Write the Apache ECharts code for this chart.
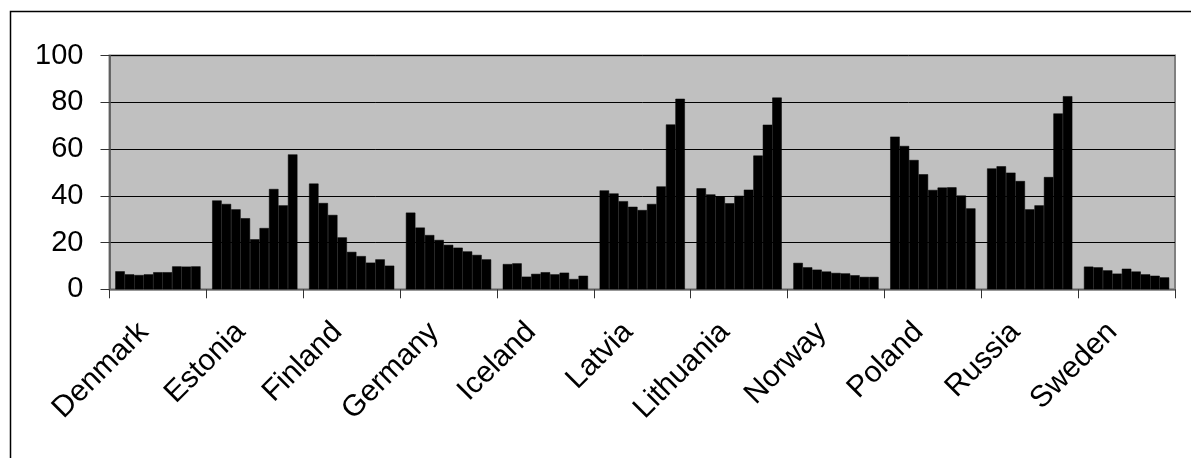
<!DOCTYPE html>
<html>
<head>
<meta charset="utf-8">
<script src="https://cdn.jsdelivr.net/npm/echarts@6/dist/echarts.min.js"></script>
<style>
html,body{margin:0;padding:0;background:#fff;}
#c{width:1191px;height:458px;}
</style>
</head>
<body>
<div id="c"></div>
<script>
var categories = ['Denmark','Estonia','Finland','Germany','Iceland','Latvia','Lithuania','Norway','Poland','Russia','Sweden'];
var yTicks = [0, 20, 40, 60, 80, 100];
var denmark   = [7.7, 6.4, 6.1, 6.4, 7.3, 7.3, 9.8, 9.7, 9.8];
var estonia   = [38.0, 36.5, 34.2, 30.4, 21.4, 26.2, 42.9, 35.9, 57.7];
var finland   = [45.2, 36.9, 31.8, 22.2, 16.0, 14.2, 11.4, 12.8, 10.1];
var germany   = [32.8, 26.4, 23.2, 21.1, 19.0, 17.8, 16.2, 14.7, 12.8];
var iceland   = [10.8, 11.1, 5.4, 6.6, 7.3, 6.4, 7.1, 4.4, 5.8];
var latvia    = [42.3, 41.0, 37.7, 35.3, 33.9, 36.5, 44.0, 70.5, 81.5];
var lithuania = [43.2, 40.6, 39.8, 36.8, 40.0, 42.6, 57.2, 70.4, 82.0];
var norway    = [11.3, 9.4, 8.4, 7.6, 7.0, 6.8, 6.0, 5.3, 5.3];
var poland    = [65.3, 61.3, 55.3, 49.2, 42.5, 43.5, 43.6, 40.1, 34.6];
var russia    = [51.7, 52.6, 49.9, 46.3, 34.2, 35.9, 48.0, 75.2, 82.6];
var sweden    = [9.7, 9.4, 8.1, 6.7, 8.8, 7.6, 6.4, 5.8, 5.1];

var byCountry = [denmark, estonia, finland, germany, iceland, latvia, lithuania, norway, poland, russia, sweden];
var nSeries = denmark.length;
var series = [];
for (var s = 0; s < nSeries; s++) {
  series.push({
    type: 'bar',
    name: 'S' + (s + 1),
    data: byCountry.map(function (c) { return c[s]; }),
    barGap: '0%',
    barCategoryGap: '12%',
    itemStyle: { color: '#000', borderColor: '#000', borderWidth: 0.5 },
    animation: false
  });
}

var chart = echarts.init(document.getElementById('c'), null, {renderer: 'canvas'});
var font = "'Liberation Sans', Arial, sans-serif";
chart.setOption({
  animation: false,
  backgroundColor: '#fff',
  grid: {
    left: 109.5, right: 16, top: 55.5, bottom: 168.7,
    show: true, backgroundColor: '#C0C0C0', borderColor: '#808080', borderWidth: 2,
    containLabel: false
  },
  graphic: [{
    type: 'rect', left: 8, top: 9, shape: {x: 0, y: 0, width: 1400, height: 700},
    style: {fill: 'none', stroke: '#000', lineWidth: 1.5}, silent: true, z: 100
  }],
  xAxis: {
    type: 'category',
    data: categories,
    axisLine: { show: true, lineStyle: { color: '#808080', width: 1.5 } },
    axisTick: { show: true, length: 9, lineStyle: { color: '#333' } },
    axisLabel: {
      rotate: 45, interval: 0, color: '#000', fontSize: 30, fontFamily: font,
      margin: 24, padding: [0, 20, 0, 0]
    },
    splitLine: { show: false }
  },
  yAxis: {
    type: 'value',
    min: 0, max: 100, interval: 20,
    axisLine: { show: true, lineStyle: { color: '#555', width: 1.5 } },
    axisTick: { show: true, length: 9, lineStyle: { color: '#333' } },
    axisLabel: {
      color: '#000', fontSize: 29, fontFamily: font, margin: 26,
      formatter: function (v) { return yTicks.indexOf(v) >= 0 ? String(v) : ''; }
    },
    splitLine: { show: true, lineStyle: { color: '#000', width: 1 } }
  },
  series: series
});
</script>
</body>
</html>
